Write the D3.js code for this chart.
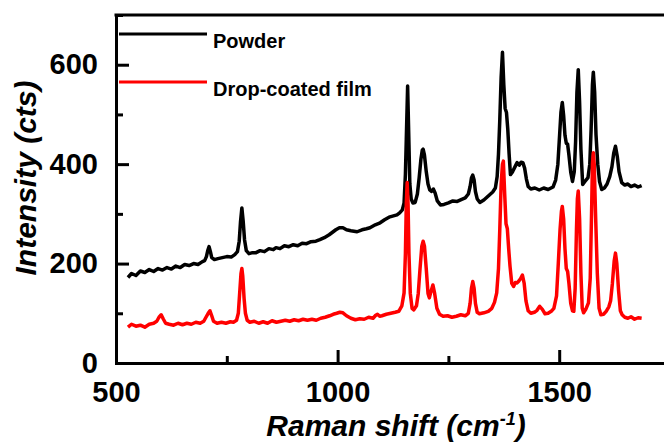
<!DOCTYPE html>
<html>
<head>
<meta charset="utf-8">
<script src="https://cdn.jsdelivr.net/npm/d3@7"></script>
<style>
  html, body { margin: 0; padding: 0; background: #fff; }
  svg { display: block; }
  text { font-family: "Liberation Sans", Arial, sans-serif; font-weight: bold; }
</style>
</head>
<body>
<svg id="chart" width="664" height="444"></svg>
<script>
// ---- data ----
const seriesNames = ["Powder", "Drop-coated film"];
const seriesColors = ["#000000", "#ff0000"];

const xMajorTicks = [500, 1000, 1500];
const xMinorTicks = [750, 1250, 1750];
const yMajorTicks = [0, 200, 400, 600];
const yMinorTicks = [100, 300, 500, 700];

// Powder spectrum: [Raman shift (cm-1), intensity (cts)]
const powder = [
  [527,172],[535,180],[545,176],[555,185],[565,182],[575,188],[585,184],[595,190],
  [605,187],[615,192],[625,189],[635,195],[645,192],[655,198],[665,196],[675,200],
  [685,198],[695,204],[700,206],[704,214],[707,226],[710,234],[713,224],[716,212],
  [722,208],[730,210],[740,212],[750,214],[760,213],[768,218],[774,224],[778,245],
  [781,285],[784,312],[787,285],[790,248],[794,226],[800,220],[808,222],[816,222],
  [825,226],[835,224],[845,230],[855,228],[861,232],[870,230],[880,236],[890,234],
  [900,238],[910,236],[920,241],[930,240],[940,244],[951,245],[960,248],[970,252],
  [981,258],[990,264],[996,268],[1004,272],[1012,272],[1020,268],[1030,266],[1044,264],
  [1055,268],[1065,270],[1073,272],[1085,278],[1096,282],[1106,288],[1118,294],
  [1126,296],[1134,298],[1140,302],[1146,308],[1150,322],[1153,380],[1155,450],
  [1158,557],[1161,440],[1163,360],[1166,330],[1170,322],[1175,323],[1180,340],
  [1184,372],[1188,410],[1191,428],[1193,430],[1196,418],[1200,385],[1204,360],
  [1208,348],[1212,345],[1216,350],[1220,342],[1225,326],[1232,318],[1240,319],
  [1250,322],[1260,326],[1270,325],[1280,329],[1288,332],[1295,340],[1299,355],
  [1302,372],[1305,378],[1308,368],[1311,345],[1315,330],[1321,323],[1330,328],
  [1340,336],[1350,344],[1356,352],[1360,375],[1363,420],[1366,490],[1369,575],
  [1372,625],[1375,560],[1378,512],[1381,504],[1384,470],[1387,420],[1390,379],
  [1395,385],[1401,396],[1405,403],[1410,398],[1414,404],[1418,403],[1422,392],
  [1426,370],[1430,355],[1436,350],[1445,352],[1455,348],[1465,352],[1475,349],
  [1486,354],[1492,368],[1497,400],[1501,460],[1504,505],[1507,524],[1510,498],
  [1513,458],[1516,442],[1519,440],[1522,418],[1526,384],[1530,365],[1534,385],
  [1537,445],[1540,545],[1543,590],[1546,525],[1549,430],[1553,359],[1558,365],
  [1565,373],[1569,400],[1572,470],[1575,560],[1577,585],[1580,545],[1583,460],
  [1587,400],[1591,365],[1596,349],[1602,352],[1608,360],[1614,375],[1619,395],
  [1623,422],[1627,436],[1631,416],[1635,385],[1641,363],[1648,358],[1655,360],
  [1662,355],[1670,358],[1678,354],[1686,357]
];

// Drop-coated film spectrum
const film = [
  [527,72],[535,78],[545,74],[555,76],[565,72],[575,78],[585,80],[592,84],[597,92],
  [602,97],[607,88],[612,80],[620,78],[630,76],[640,80],[650,77],[660,80],[670,78],
  [680,82],[690,80],[698,84],[703,92],[708,100],[712,105],[716,95],[720,84],[728,80],
  [738,82],[748,80],[758,83],[765,82],[772,86],[776,100],[779,140],[782,180],[784,190],
  [786,175],[789,130],[792,100],[796,86],[802,82],[812,84],[822,80],[832,83],[842,80],
  [852,85],[862,82],[872,84],[882,86],[892,84],[902,87],[912,85],[922,88],[932,86],
  [942,88],[952,86],[962,90],[972,92],[982,95],[990,98],[998,100],[1005,102],[1012,101],
  [1020,95],[1030,90],[1040,87],[1050,89],[1060,88],[1070,92],[1080,90],[1086,96],
  [1090,98],[1095,94],[1100,95],[1110,98],[1120,100],[1130,102],[1138,104],[1145,115],
  [1150,141],[1153,220],[1155,320],[1157,363],[1159,320],[1161,220],[1164,140],
  [1168,110],[1172,107],[1178,115],[1182,140],[1186,190],[1190,235],[1193,245],
  [1196,235],[1200,190],[1204,140],[1207,131],[1211,145],[1215,157],[1219,140],
  [1224,110],[1230,98],[1238,94],[1248,95],[1258,92],[1268,94],[1278,97],[1288,95],
  [1295,100],[1299,120],[1302,150],[1305,164],[1308,150],[1311,120],[1315,102],
  [1320,99],[1330,101],[1340,104],[1348,110],[1354,122],[1359,141],[1363,190],
  [1366,270],[1369,360],[1372,400],[1374,406],[1377,340],[1380,280],[1383,270],
  [1386,230],[1389,195],[1393,160],[1397,154],[1401,162],[1405,161],[1409,165],
  [1413,170],[1417,177],[1421,160],[1425,125],[1430,105],[1436,100],[1444,102],
  [1450,106],[1456,114],[1462,108],[1468,99],[1475,100],[1482,104],[1488,110],
  [1494,135],[1498,201],[1502,270],[1505,305],[1507,315],[1510,290],[1513,230],
  [1516,190],[1519,184],[1522,160],[1526,120],[1530,105],[1533,104],[1536,150],
  [1539,270],[1541,330],[1543,346],[1546,290],[1549,180],[1552,110],[1555,101],
  [1560,108],[1566,121],[1570,170],[1573,300],[1575,400],[1577,423],[1579,400],
  [1582,300],[1586,180],[1590,110],[1594,97],[1600,98],[1606,104],[1612,113],
  [1616,125],[1620,160],[1624,205],[1627,221],[1630,200],[1634,145],[1638,105],
  [1642,97],[1648,92],[1655,90],[1662,93],[1670,88],[1678,91],[1686,90]
];

const allSeries = [powder, film];

// ---- layout ----
const svg = d3.select("#chart");
const plotLeft = 116, plotBottom = 363, plotTop = 15;
const x = d3.scaleLinear().domain([500, 1800]).range([plotLeft, plotLeft + 1300 * 0.4432]);
const y = d3.scaleLinear().domain([0, 700]).range([plotBottom, plotTop]);

// lines
const line = d3.line().x(d => x(d[0])).y(d => y(d[1]));
allSeries.forEach((s, i) => {
  svg.append("path")
    .datum(s)
    .attr("fill", "none")
    .attr("stroke", seriesColors[i])
    .attr("stroke-width", 3.5)
    .attr("stroke-linejoin", "round")
    .attr("d", line);
});

// axes
const axisFont = "29px";
const gx = svg.append("g").attr("transform", `translate(0,${plotBottom})`)
  .call(d3.axisBottom(x).tickValues(xMajorTicks).tickSizeInner(-13).tickSizeOuter(0)
        .tickPadding(18).tickFormat(d3.format("d")));
const gxm = svg.append("g").attr("transform", `translate(0,${plotBottom})`)
  .call(d3.axisBottom(x).tickValues(xMinorTicks).tickSizeInner(-7).tickSizeOuter(0).tickFormat(""));
const gy = svg.append("g").attr("transform", `translate(${plotLeft},0)`)
  .call(d3.axisLeft(y).tickValues(yMajorTicks).tickSizeInner(-13).tickSizeOuter(0)
        .tickPadding(18).tickFormat(d3.format("d")));
const gym = svg.append("g").attr("transform", `translate(${plotLeft},0)`)
  .call(d3.axisLeft(y).tickValues(yMinorTicks).tickSizeInner(-7).tickSizeOuter(0).tickFormat(""));

[gx, gxm, gy, gym].forEach(g => {
  g.selectAll(".domain").attr("stroke", "#000").attr("stroke-width", 3).attr("stroke-linecap", "square");
  g.selectAll(".tick line").attr("stroke", "#000").attr("stroke-width", 3);
  g.selectAll(".tick text").attr("fill", "#000")
    .style("font-family", '"Liberation Sans", Arial, sans-serif')
    .style("font-weight", "bold").style("font-size", axisFont);
});
gym.selectAll(".domain").remove();
gxm.selectAll(".domain").remove();

// top frame line
svg.append("line")
  .attr("x1", plotLeft).attr("x2", 700).attr("y1", y(700)).attr("y2", y(700))
  .attr("stroke", "#000").attr("stroke-width", 3).attr("stroke-linecap", "square");

// axis titles
const xt = svg.append("text")
  .attr("x", 396).attr("y", 436)
  .attr("text-anchor", "middle")
  .style("font-size", "30px").style("font-style", "italic").style("font-weight", "bold");
xt.append("tspan").text("Raman shift (cm");
xt.append("tspan").attr("dy", -11).style("font-size", "18px").text("-1");
xt.append("tspan").attr("dy", 11).text(")");

svg.append("text")
  .attr("transform", "translate(36,178) rotate(-90)")
  .attr("text-anchor", "middle")
  .style("font-size", "30px").style("font-style", "italic").style("font-weight", "bold")
  .text("Intensity (cts)");

// legend
const legendY = [34, 82];
seriesNames.forEach((name, i) => {
  svg.append("line")
    .attr("x1", 119).attr("x2", 207).attr("y1", legendY[i]).attr("y2", legendY[i])
    .attr("stroke", seriesColors[i]).attr("stroke-width", 3);
  svg.append("text")
    .attr("x", 213).attr("y", legendY[i] + 14)
    .style("font-size", "20px").attr("fill", "#000")
    .text(name);
});
</script>
</body>
</html>
